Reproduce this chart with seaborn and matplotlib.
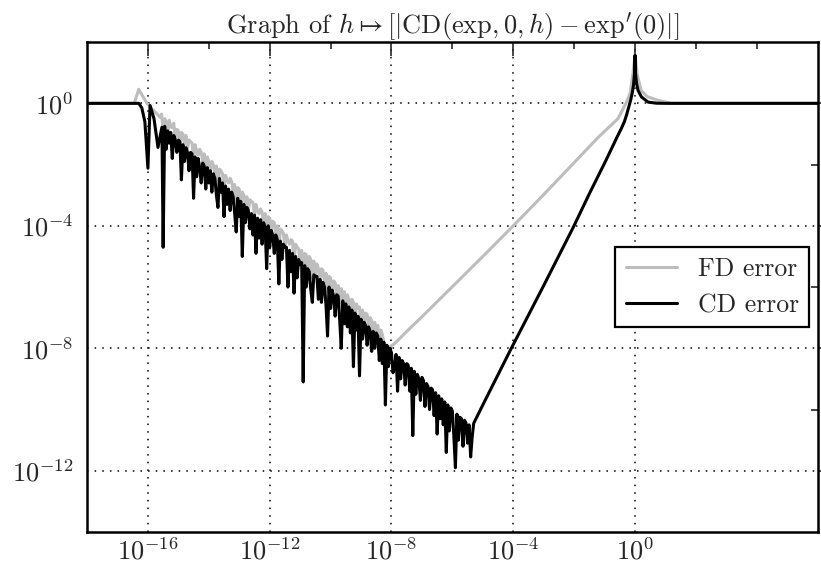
import numpy as np
import pandas as pd
import matplotlib
matplotlib.use("Agg")
import matplotlib.pyplot as plt
from matplotlib.ticker import NullFormatter
import seaborn as sns

# values, as log10(h) and log10(error)
step = 0.05

# FD error (grey)
fd_head_logh = [-18.0, -16.45, -16.3, -16.15, -16.03, -15.9, -15.75, -15.6]
fd_head_logerr = [0.0, 0.0, 0.46, 0.2, 0.0, -0.15, -0.3, -0.45]
fd_noise_start = -15.55
fd_noise_logerr = [
    -0.35, -0.9, -0.5, -0.6, -1.0, -0.55, -0.75, -0.8, -0.65, -1.2, -0.85, -0.9, -1.4, -0.95, -1.0, -1.3, -1.05, -1.5, -1.2, -1.25,
    -1.3, -1.8, -1.35, -1.55, -1.7, -1.5, -1.6, -1.9, -1.65, -2.3, -1.75, -1.9, -2.2, -1.9, -2.0, -2.3, -2.05, -2.8, -2.15, -2.2,
    -2.3, -2.8, -2.35, -2.5, -2.6, -2.45, -2.55, -2.9, -2.65, -3.5, -2.75, -2.8, -3.3, -2.9, -3.0, -3.3, -3.05, -3.5, -3.15, -3.2,
    -3.25, -3.7, -3.3, -3.5, -3.6, -3.45, -3.55, -4.0, -3.6, -4.5, -3.7, -3.75, -4.2, -3.85, -3.9, -4.3, -4.0, -4.9, -4.1, -4.15,
    -4.25, -4.7, -4.3, -4.5, -4.6, -4.45, -4.5, -5.2, -4.6, -4.7, -4.75, -5.3, -4.8, -6.0, -4.9, -4.95, -5.4, -5.0, -5.1, -5.7,
    -5.15, -5.6, -5.25, -5.4, -5.8, -5.4, -5.45, -5.9, -5.55, -6.5, -5.65, -5.7, -6.2, -5.8, -5.85, -6.3, -5.95, -6.5, -6.05, -6.9,
    -6.15, -6.6, -6.25, -6.4, -6.8, -6.4, -6.5, -7.2, -6.55, -6.7, -6.65, -7.4, -6.75, -7.2, -6.85, -6.9, -7.3, -7.0, -7.1, -7.6,
    -7.15, -7.7, -7.25, -7.8, -7.4, -7.55, -7.8, -8.6, -7.9, -8.3,
]
fd_tail_logh = [-8.05, -7.9, -7.7, -7.5, -7.0, -6.46, -5.0, -4.0, -3.0, -1.87, -1.2, -0.56, -0.3,
                -0.16, -0.07, 0.0, 0.07, 0.2, 0.4, 0.75, 1.2, 6.0]
fd_tail_logerr = [-7.95, -7.85, -7.65, -7.45, -6.97, -6.44, -5.0, -4.0, -2.98, -1.8, -1.1, -0.5, 0.0,
                  0.33, 0.98, 1.57, 0.95, 0.42, 0.22, 0.1, 0.0, 0.0]

# CD error (black)
cd_head_logh = [-18.0, -16.3, -16.2, -16.1, -16.0, -15.93, -15.8, -15.67, -15.54, -15.5]
cd_head_logerr = [0.0, 0.0, -0.15, -0.6, -2.12, -0.07, -0.5, -1.44, -0.78, -4.7]
cd_noise_start = -15.45
cd_noise_logerr = [
    -0.75, -1.5, -0.9, -1.3, -0.95, -1.8, -1.05, -1.2, -1.6, -1.2, -1.25, -2.5, -1.35, -1.9, -1.45, -1.6, -2.2, -1.6, -1.65, -3.1,
    -1.75, -2.4, -1.8, -2.1, -2.6, -1.95, -2.05, -2.8, -2.1, -2.6, -2.2, -2.9, -2.3, -2.45, -3.0, -3.4, -2.45, -2.9, -2.6, -3.7,
    -2.7, -3.3, -2.8, -3.5, -2.9, -3.05, -3.6, -4.2, -3.1, -3.7, -3.2, -5.0, -3.3, -3.9, -3.4, -3.5, -4.1, -3.6, -4.3, -3.65,
    -4.9, -3.75, -4.4, -3.8, -4.6, -3.9, -4.05, -5.4, -4.0, -4.7, -4.15, -4.3, -4.9, -4.3, -4.45, -5.9, -4.5, -5.1, -4.6, -4.7,
    -4.7, -6.0, -4.8, -5.5, -4.9, -6.2, -5.0, -5.7, -5.1, -5.25, -5.2, -9.1, -5.3, -6.0, -5.4, -5.5, -6.1, -6.5, -5.6, -5.65,
    -5.65, -6.4, -5.75, -6.5, -5.85, -6.0, -6.6, -7.6, -6.0, -6.7, -6.1, -6.3, -6.95, -6.25, -6.3, -7.1, -8.0, -6.45, -7.2, -6.55,
    -7.3, -6.65, -7.5, -6.75, -8.6, -6.85, -7.4, -6.95, -8.9, -7.05, -7.7, -7.15, -7.25, -7.9, -7.3, -7.45, -8.1, -7.45, -8.0, -7.5,
    -7.6, -8.4, -7.7, -8.5, -7.8, -9.85, -7.9, -8.6, -8.0, -8.15, -8.8, -8.6, -8.2, -9.4, -8.3, -9.0, -8.4, -8.5, -9.2, -8.5,
    -8.55, -9.4, -8.65, -10.85, -8.75, -9.5, -8.85, -9.0, -9.7, -8.95, -9.05, -9.9, -9.15, -9.25, -10.0, -9.3, -9.35, -10.2, -9.45, -10.8,
    -9.55, -10.3, -9.65, -10.5, -9.75, -11.4, -9.85, -10.7, -9.95, -10.05, -10.9, -11.9, -10.15, -11.0, -10.25, -10.3, -11.2, -10.35, -10.45, -11.1,
    -10.5, -11.55, -10.9, -10.45,
]
cd_tail_logh = [-5.0, -4.1, -3.0, -2.03, -1.5, -0.95, -0.6, -0.45, -0.35, -0.27, -0.2, -0.14, -0.09,
                -0.05, -0.02, 0.0, 0.015, 0.05, 0.1, 0.21, 0.43, 0.7, 1.0, 6.0]
cd_tail_logerr = [-9.85, -8.07, -5.95, -4.05, -2.95, -1.85, -1.12, -0.82, -0.6, -0.35, -0.1, 0.12, 0.35,
                  0.6, 0.95, 1.57, 1.0, 0.65, 0.42, 0.21, 0.04, 0.005, 0.0, 0.0]


def build(head_x, head_y, start, noise, tail_x, tail_y):
    noise_x = np.round(start + step * np.arange(len(noise)), 2)
    lx = np.concatenate([head_x, noise_x, tail_x])
    ly = np.concatenate([head_y, noise, tail_y])
    return pd.DataFrame({"h": 10.0 ** lx, "err": 10.0 ** ly})


fd = build(fd_head_logh, fd_head_logerr, fd_noise_start, fd_noise_logerr, fd_tail_logh, fd_tail_logerr)
cd = build(cd_head_logh, cd_head_logerr, cd_noise_start, cd_noise_logerr, cd_tail_logh, cd_tail_logerr)

sns.set_style("white")
plt.rcParams["font.family"] = "serif"
plt.rcParams["font.serif"] = ["cmr10"]
plt.rcParams["mathtext.fontset"] = "cm"
plt.rcParams["axes.formatter.use_mathtext"] = True
plt.rcParams["axes.unicode_minus"] = True

fig, ax = plt.subplots(figsize=(8.21, 5.69), dpi=100)
fig.subplots_adjust(left=0.106, right=0.996, top=0.926, bottom=0.065)

sns.lineplot(data=fd, x="h", y="err", color="#bdbdbd", lw=2.2, label="FD error",
             estimator=None, sort=False, ax=ax)
sns.lineplot(data=cd, x="h", y="err", color="black", lw=2.2, label="CD error",
             estimator=None, sort=False, ax=ax)

ax.set_xscale("log")
ax.set_yscale("log")
ax.set_xlim(1e-18, 1e6)
ax.set_ylim(1e-14, 1e2)
ax.set_xticks([1e-16, 1e-12, 1e-8, 1e-4, 1e0])
ax.set_xticks([1e-14, 1e-10, 1e-6, 1e-2, 1e2, 1e4], minor=True)
ax.set_yticks([1e-12, 1e-8, 1e-4, 1e0])
ax.set_yticks([1e-10, 1e-6, 1e-2], minor=True)
ax.xaxis.set_minor_formatter(NullFormatter())
ax.yaxis.set_minor_formatter(NullFormatter())
ax.set_xlabel("")
ax.set_ylabel("")

ax.tick_params(axis="both", which="major", labelsize=19, width=1.2)
ax.tick_params(axis="x", which="major", direction="in", length=10, top=True, pad=4)
ax.tick_params(axis="x", which="minor", direction="in", length=5, width=1.2, top=True)
ax.tick_params(axis="y", which="major", direction="out", length=8, right=True, pad=2)
ax.tick_params(axis="y", which="minor", direction="in", length=5, width=1.2, right=True)

for s in ax.spines.values():
    s.set_linewidth(1.8)
    s.set_color("black")

ax.grid(True, which="major", color="black", linestyle=(0, (1, 4)), linewidth=1.1)

ax.set_title(r"Graph of $h \mapsto [|\mathrm{CD}(\mathrm{exp}, 0, h) - \mathrm{exp}'(0)|]$",
             fontsize=19, pad=6)

leg = ax.legend(loc="center right", bbox_to_anchor=(0.988, 0.5), borderaxespad=0,
                fancybox=False, framealpha=1, edgecolor="black", fontsize=18.5,
                handlelength=2.0)
leg.get_frame().set_linewidth(1.6)

fig.savefig("out.png", dpi=100, facecolor="white")
